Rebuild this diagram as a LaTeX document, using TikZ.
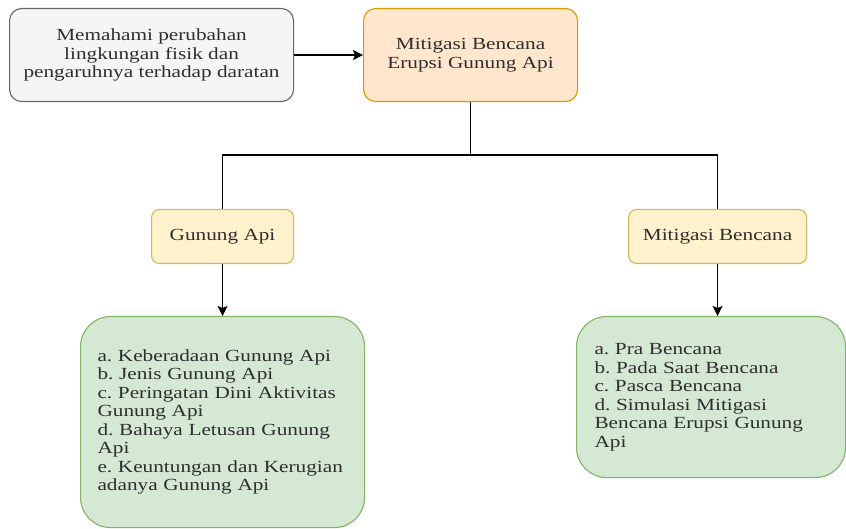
\documentclass[tikz,border=0pt]{standalone}
\usepackage{fontspec}
\setmainfont{Liberation Serif}[FakeStretch=1.25]
\usetikzlibrary{arrows.meta}
\frenchspacing
\definecolor{greyfill}{HTML}{F5F5F5}
\definecolor{greyline}{HTML}{666666}
\definecolor{orfill}{HTML}{FFE6CC}
\definecolor{orline}{HTML}{D79B00}
\definecolor{yefill}{HTML}{FFF2CC}
\definecolor{yeline}{HTML}{D6B656}
\definecolor{grfill}{HTML}{D5E8D4}
\definecolor{grline}{HTML}{82B366}
\definecolor{txt}{HTML}{2E2E2E}
\tikzset{
  base/.style={anchor=north west, inner sep=0pt, text=txt, line width=1.1pt,
    font=\fontsize{17}{18.5}\selectfont\frenchspacing, align=center},
  greybox/.style={base, draw=greyline, fill=greyfill, rounded corners=12pt},
  orbox/.style={base, draw=orline, fill=orfill, rounded corners=12pt},
  yebox/.style={base, draw=yeline, fill=yefill, rounded corners=8pt},
  grbox/.style={base, draw=grline, fill=grfill, rounded corners=30pt, align=left},
  conn/.style={line width=1.5pt, black},
  arr/.style={conn, -{Stealth[length=10pt,width=10pt,inset=2pt]}}
}
\begin{document}
\begin{tikzpicture}[x=1pt,y=1pt]
\useasboundingbox (0,0) rectangle (846,-529);
\node[greybox, minimum width=284pt, minimum height=93pt] (src) at (9,-8)
  {Memahami perubahan\\lingkungan fisik dan\\pengaruhnya terhadap daratan};
\node[orbox, minimum width=214pt, minimum height=93pt] (main) at (363,-8)
  {Mitigasi Bencana\\Erupsi Gunung Api};
\node[yebox, minimum width=142pt, minimum height=54pt] (ga) at (151,-209)
  {Gunung Api};
\node[yebox, minimum width=178pt, minimum height=54pt] (mb) at (628,-209)
  {Mitigasi Bencana};
\node[grbox, text width=250pt, inner xsep=17pt, minimum height=211pt] (lg) at (80,-316)
  {a. Keberadaan Gunung Api\\b. Jenis Gunung Api\\c. Peringatan Dini Aktivitas\\Gunung Api\\d. Bahaya Letusan Gunung\\Api\\e. Keuntungan dan Kerugian\\adanya Gunung Api};
\node[grbox, text width=233pt, inner xsep=18pt, minimum height=161pt] (rg) at (576,-316)
  {a. Pra Bencana\\b. Pada Saat Bencana\\c. Pasca Bencana\\d. Simulasi Mitigasi\\Bencana Erupsi Gunung\\Api};
\draw[arr] (src.east) -- (main.west);
\coordinate (j) at (main.south |- 0,-155);
\draw[conn] (main.south) -- (j);
\draw[conn] (j) -| (ga.north);
\draw[conn] (j) -| (mb.north);
\draw[arr] (ga.south) -- (lg.north);
\draw[arr] (mb.south) -- (mb.south |- rg.north);
\end{tikzpicture}
\end{document}
